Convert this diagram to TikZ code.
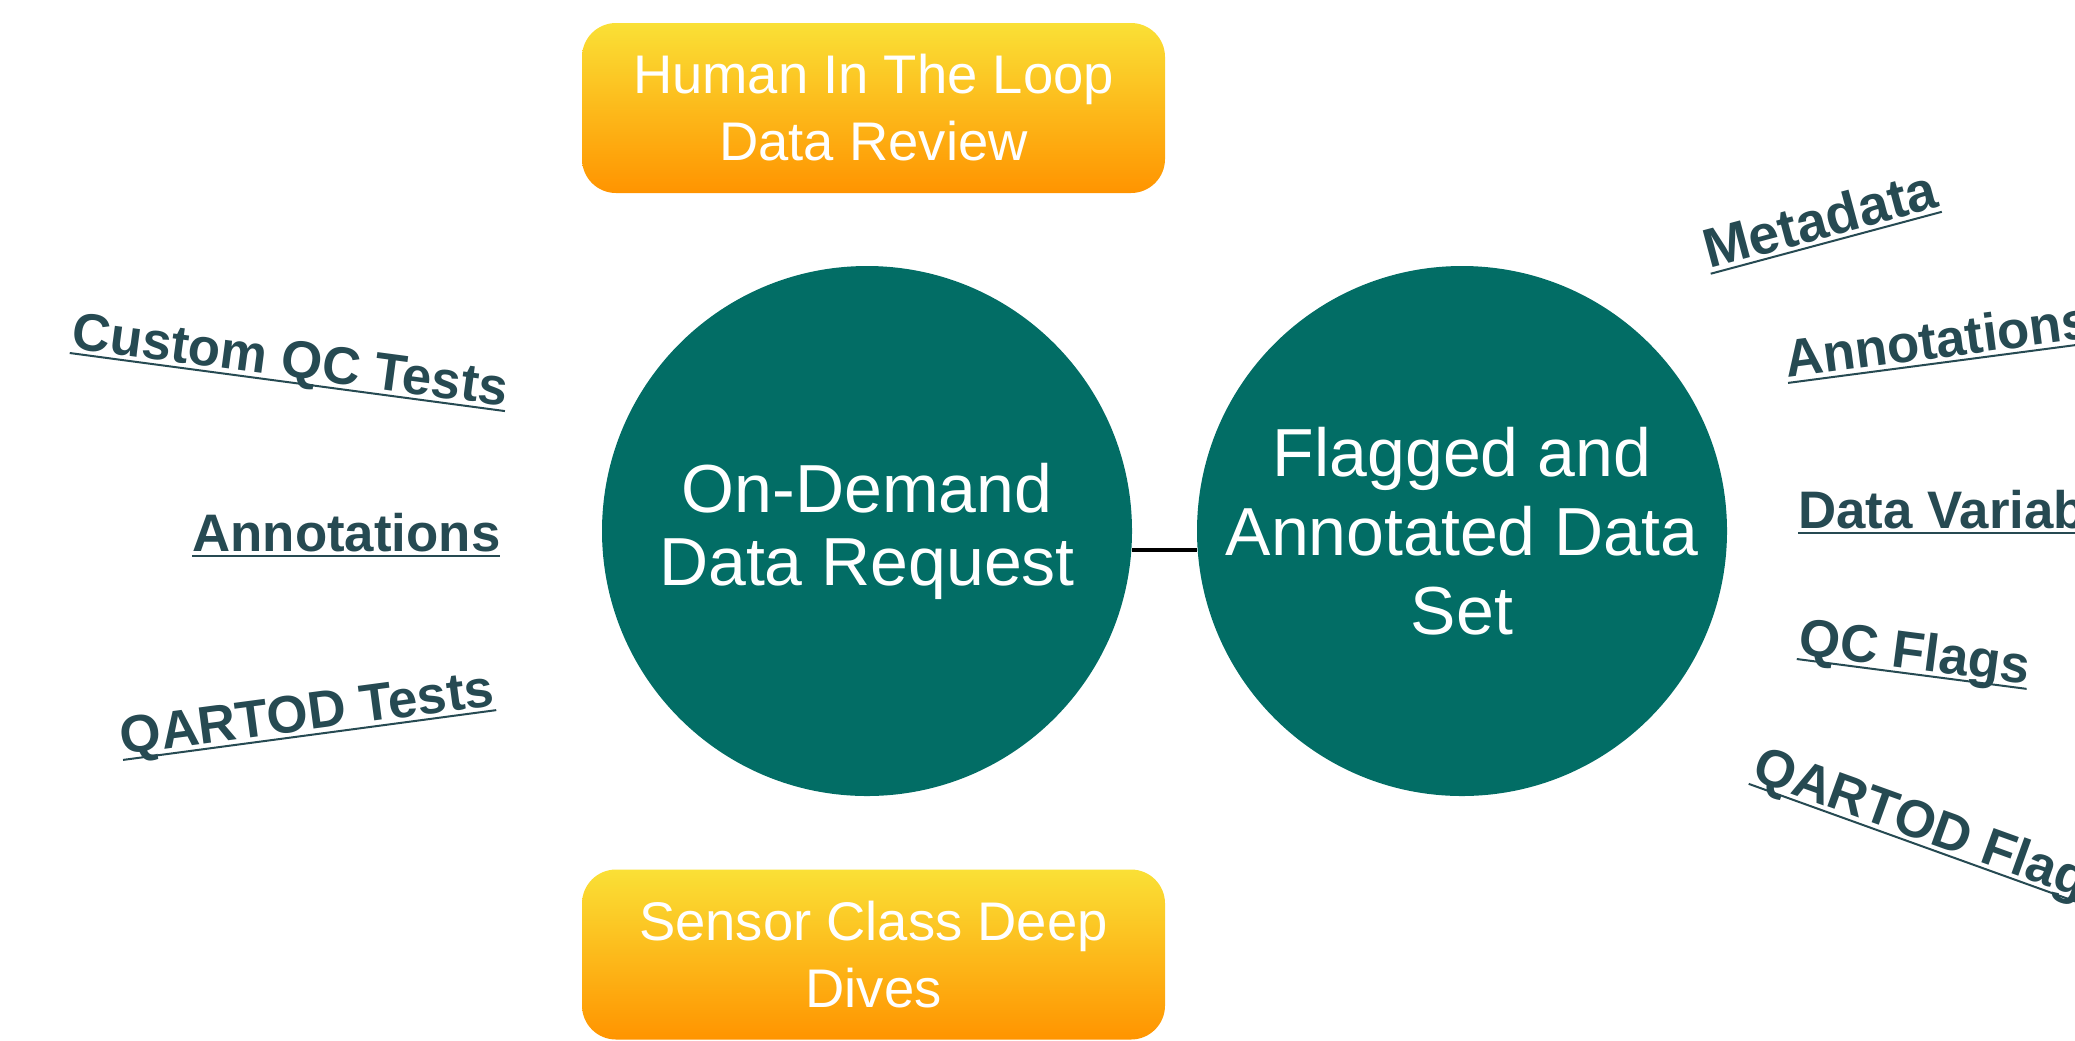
\documentclass[tikz,border=0pt]{standalone}
\usepackage{fontspec}
\setmainfont{Liberation Sans}

\definecolor{teal}{RGB}{2,109,101}
\definecolor{slate}{RGB}{38,74,82}
\definecolor{boxtop}{RGB}{250,224,54}
\definecolor{boxbot}{RGB}{255,148,0}

% underline sitting at a fixed depth below the baseline
\newcommand{\ulined}[1]{\setbox0\hbox{#1}\rlap{\rule[-3pt]{\wd0}{1pt}}\box0}

\tikzset{
    bubble/.style={circle, fill=teal, text=white, inner sep=0pt,
        minimum size=265pt, align=center},
    reviewbox/.style={rounded corners=17pt, top color=boxtop, bottom color=boxbot,
        draw=none, text=white, minimum width=291.5pt, minimum height=85pt,
        align=center, font=\fontsize{27.2}{33.5}\selectfont},
    topic/.style={anchor=base west, inner sep=0pt, text=slate,
        font=\bfseries\fontsize{26.4}{30}\selectfont}
}

\begin{document}
\begin{tikzpicture}[x=0.5pt,y=-0.5pt]

    \useasboundingbox (0,0) rectangle (2075,1040);
    \clip (0,0) rectangle (2075,1040);

    % Draw the two main circles
    \node[bubble, font=\fontsize{34}{36.5}\selectfont] (request) at (867,531)
        {On-Demand\\Data Request};
    \node[bubble, font=\fontsize{34}{39.5}\selectfont] (dataset) at (1462,531)
        {Flagged and\\Annotated Data\\Set};

    \draw[line width=2pt] (request.-4.3) -- (dataset.184.3);

    % Draw the review boxes above and below
    \node[reviewbox] (review) at (873.5,108) {Human In The Loop\\Data Review};
    \node[reviewbox] (dives) at (873.5,954.5) {Sensor Class Deep\\Dives};

    % Inputs on the left
    \node[topic, rotate=-7.6] (custom) at (70,348) {\ulined{Custom QC Tests}};
    \node[topic] (annin) at (192,551) {\ulined{Annotations}};
    \node[topic, rotate=7.6] (qtests) at (122,755) {\ulined{QARTOD Tests}};

    % Outputs on the right
    \node[topic, rotate=15, font=\bfseries\fontsize{27.6}{30}\selectfont] (meta) at (1709,269) {\ulined{Metadata}};
    \node[topic, rotate=7.5] (annout) at (1787,378) {\ulined{Annotations}};
    \node[topic] (vars) at (1798,528) {\ulined{Data Variables}};
    \node[topic, rotate=-7.4] (qcflags) at (1797,654) {\ulined{QC Flags}};
    \node[topic, rotate=-19.8] (qflags) at (1750,779) {\ulined{QARTOD Flags}};

\end{tikzpicture}
\end{document}
